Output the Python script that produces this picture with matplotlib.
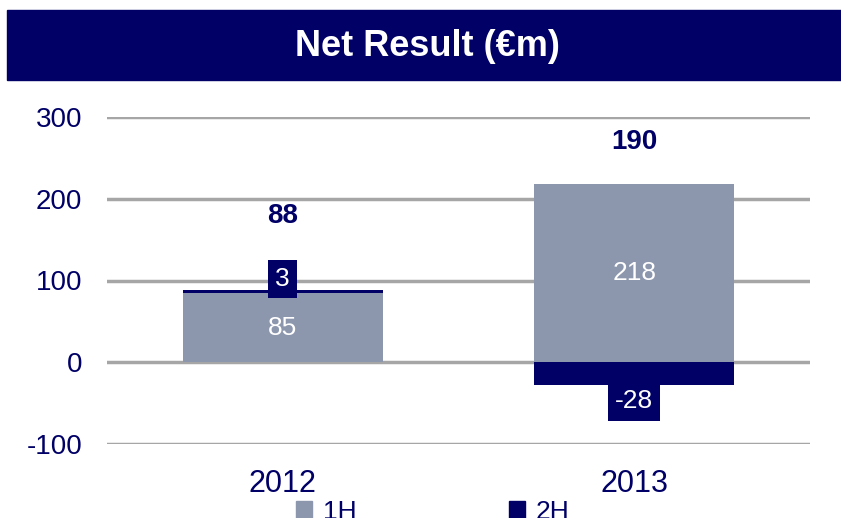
import matplotlib.pyplot as plt
from matplotlib.patches import Patch

plt.rcParams['font.family'] = ['Liberation Sans', 'DejaVu Sans']
plt.rcParams['axes.unicode_minus'] = False

years = ['2012', '2013']
first_half = [85, 218]
second_half = [3, -28]
totals = [88, 190]

NAVY = '#000066'
GREY_BLUE = '#8C97AE'
GRID = '#A6A6A6'

fig = plt.figure(figsize=(8.41, 5.18), dpi=100)

# title banner
fig.patches.append(plt.Rectangle((7 / 841, 1 - 80 / 518), 834 / 841, 70 / 518,
                                 transform=fig.transFigure, color=NAVY, zorder=0))
fig.text(427 / 841, 1 - 46 / 518, 'Net Result (€m)', color='white', fontsize=26,
         fontweight='bold', ha='center', va='center')

ax = fig.add_axes([107 / 841, 1 - 444 / 518, 703 / 841, 327 / 518])
x = range(len(years))
width = 0.57

ax.bar(x, first_half, width, color=GREY_BLUE, zorder=2, label='1H')
bottoms = [fh if sh > 0 else 0 for fh, sh in zip(first_half, second_half)]
ax.bar(x, second_half, width, bottom=bottoms, color=NAVY, zorder=3, label='2H')

for i in x:
    fh, sh = first_half[i], second_half[i]
    ax.text(i, fh / 2, str(fh), color='white', fontsize=19,
            ha='center', va='center', zorder=4)
    # 2H label in a navy box, offset away from the stack
    sy = fh + 17 if sh > 0 else sh - 20
    ax.text(i, sy, str(sh), color='white', fontsize=19, ha='center', va='center', zorder=4,
            bbox=dict(boxstyle='square,pad=0.27', fc=NAVY, ec='none'))
    top = max(fh, fh + sh)
    ax.text(i, top + (91 if i == 0 else 52), str(totals[i]), color=NAVY, fontsize=20,
            fontweight='bold', ha='center', va='center', zorder=4)

ax.set_xlim(-0.5, 1.5)
ax.set_ylim(-100, 300)
ax.set_yticks([-100, 0, 100, 200, 300])
ax.set_xticks(list(x))
ax.set_xticklabels(years)
ax.yaxis.grid(True, color=GRID, linewidth=2.5, zorder=1)
ax.set_axisbelow(True)
for s in ax.spines.values():
    s.set_visible(False)
ax.tick_params(axis='both', length=0, labelcolor=NAVY)
ax.tick_params(axis='y', pad=18, labelsize=20)
ax.tick_params(axis='x', pad=18, labelsize=22)

handles = [Patch(color=GREY_BLUE, label='1H'), Patch(color=NAVY, label='2H')]
fig.legend(handles=handles, loc='center', bbox_to_anchor=(433 / 841, 1 - 512 / 518), ncol=2,
           frameon=False, fontsize=19, labelcolor=NAVY, handlelength=0.6, handleheight=0.6,
           handletextpad=0.4, columnspacing=5.8)

fig.savefig('out.png', dpi=100)
